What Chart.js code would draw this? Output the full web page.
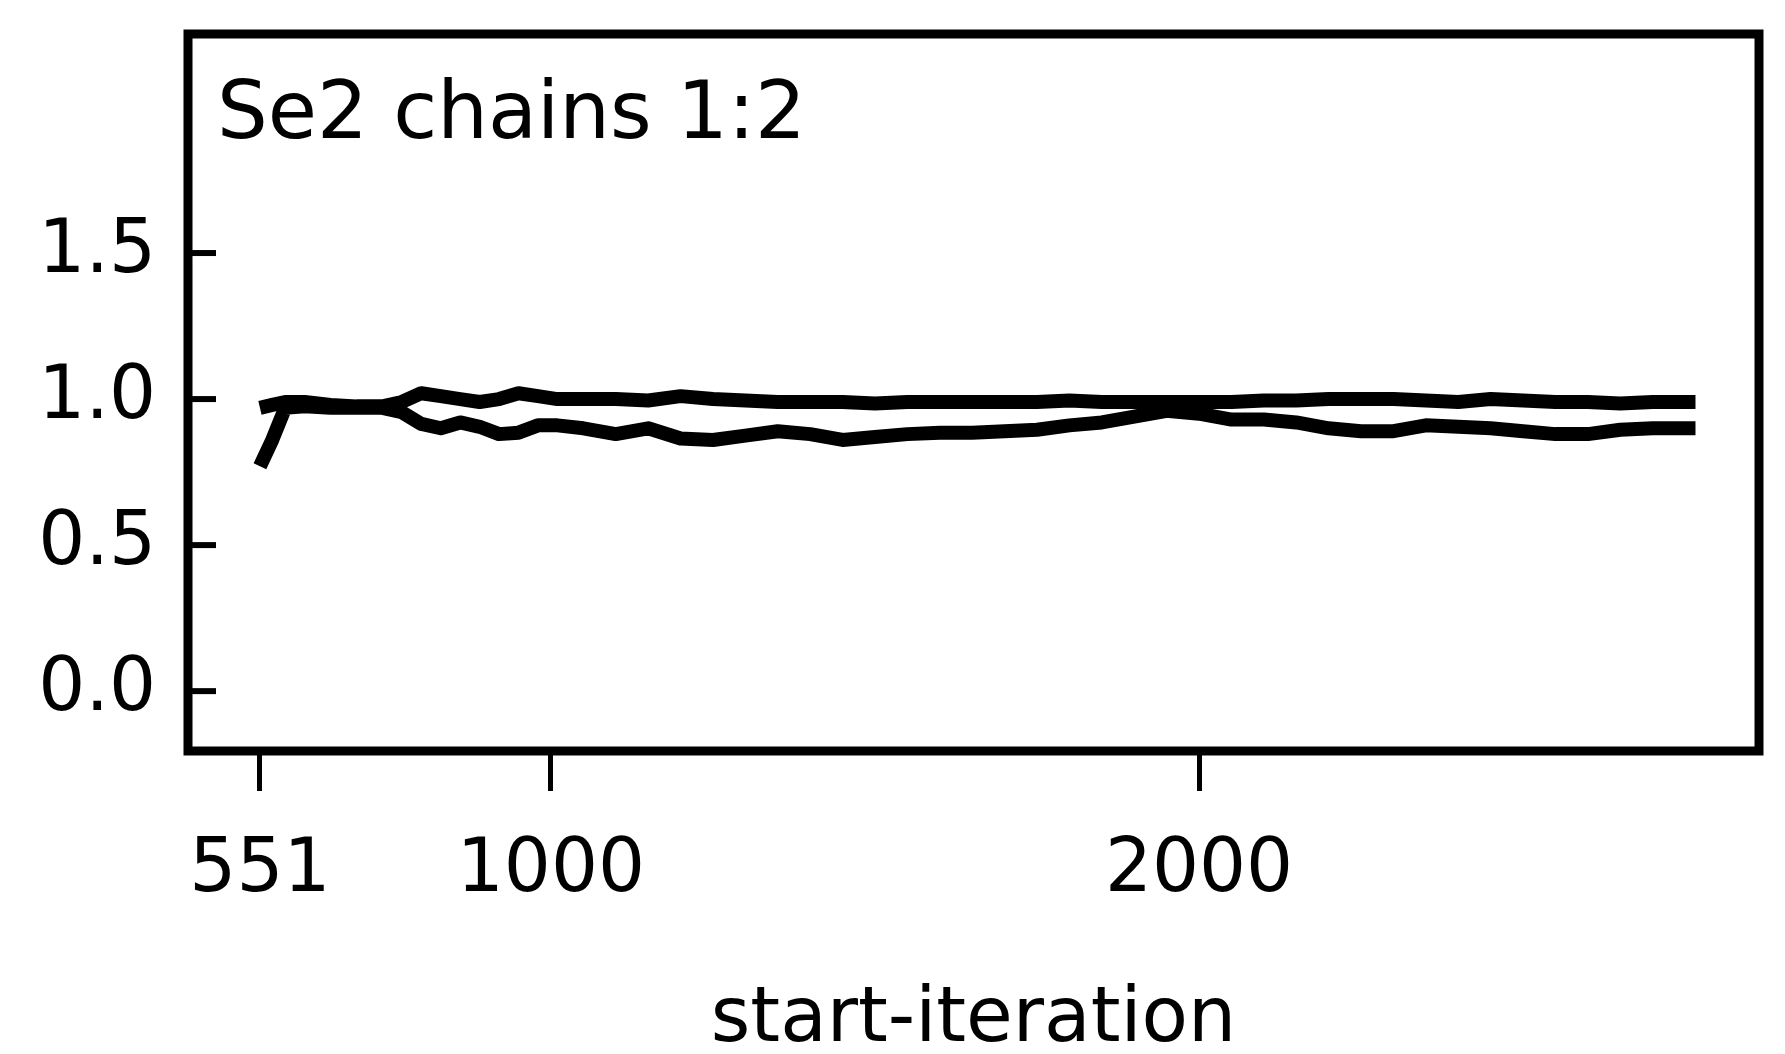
<!DOCTYPE html>
<html>
<head>
<meta charset="utf-8">
<title>Se2 chains 1:2</title>
<script src="https://cdn.jsdelivr.net/npm/chart.js@4.4.1/dist/chart.umd.min.js"></script>
<style>
  html, body { margin: 0; padding: 0; background: #fff; }
  #wrap { width: 1785px; height: 1054px; }
</style>
</head>
<body>
<div id="wrap"><canvas id="Chart1"></canvas></div>
<script>
// start-iteration values and the two chain traces
var iterations = [551, 570, 590, 620, 660, 700, 740, 770, 800, 830, 860, 890, 920, 950, 980, 1010, 1050, 1100, 1150, 1200,
                  1250, 1300, 1350, 1400, 1450, 1500, 1550, 1600, 1650, 1700, 1750, 1800, 1850, 1900, 1950, 2000,
                  2050, 2100, 2150, 2200, 2250, 2300, 2350, 2400, 2450, 2500, 2550, 2600, 2650, 2700, 2766];
var chain1 = [0.97, 0.98, 0.99, 0.99, 0.98, 0.975, 0.975, 0.99, 1.02, 1.01, 1.0, 0.99, 1.0, 1.02, 1.01, 1.0, 1.0, 1.0, 0.995, 1.01,
              1.0, 0.995, 0.99, 0.99, 0.99, 0.985, 0.99, 0.99, 0.99, 0.99, 0.99, 0.995, 0.99, 0.99, 0.99, 0.99,
              0.99, 0.995, 0.995, 1.0, 1.0, 1.0, 0.995, 0.99, 1.0, 0.995, 0.99, 0.99, 0.985, 0.99, 0.99];
var chain2 = [0.77, 0.86, 0.97, 0.975, 0.97, 0.97, 0.97, 0.955, 0.915, 0.90, 0.92, 0.905, 0.88, 0.885, 0.91, 0.91, 0.90, 0.88, 0.90, 0.865,
              0.86, 0.875, 0.89, 0.88, 0.86, 0.87, 0.88, 0.885, 0.885, 0.89, 0.895, 0.91, 0.92, 0.94, 0.96, 0.95,
              0.93, 0.93, 0.92, 0.90, 0.89, 0.89, 0.91, 0.905, 0.90, 0.89, 0.88, 0.88, 0.895, 0.90, 0.90];
var xTicks = [551, 1000, 2000];
var yTicks = [0, 0.5, 1.0, 1.5];
var panelLabel = "Se2 chains 1:2";
var xTitle = "start-iteration";

function points(vals) {
    return iterations.map(function (it, i) { return {x: it, y: vals[i]}; });
}

// frame around the plot, inward y ticks and the panel label
var boxPlugin = {
    id: 'box',
    afterDraw: function (chart) {
        var ctx = chart.ctx, a = chart.chartArea, ys = chart.scales.y;
        ctx.save();
        ctx.strokeStyle = '#000';
        ctx.lineWidth = 9;
        ctx.strokeRect(a.left, a.top, a.right - a.left, a.bottom - a.top);
        ctx.lineWidth = 6;
        yTicks.forEach(function (v) {
            var py = ys.getPixelForValue(v);
            ctx.beginPath();
            ctx.moveTo(a.left, py);
            ctx.lineTo(a.left + 28, py);
            ctx.stroke();
        });
        ctx.fillStyle = '#000';
        ctx.font = '80px "DejaVu Sans"';
        ctx.textBaseline = 'alphabetic';
        ctx.fillText(panelLabel, a.left + 29, a.top + 104);
        ctx.restore();
    }
};

Chart.defaults.font.family = '"DejaVu Sans", sans-serif';
Chart.defaults.color = '#000';

var ctxL = document.getElementById("Chart1").getContext('2d');
var myLineChart = new Chart(ctxL, {
    type: 'line',
    data: {
        datasets: [{
            label: "chain 1",
            data: points(chain1),
            borderColor: '#000',
            borderWidth: 14,
            pointRadius: 0,
            borderJoinStyle: 'round',
            fill: false
        }, {
            label: "chain 2",
            data: points(chain2),
            borderColor: '#000',
            borderWidth: 14,
            pointRadius: 0,
            borderJoinStyle: 'round',
            fill: false
        }]
    },
    options: {
        responsive: true,
        maintainAspectRatio: false,
        animation: false,
        layout: {padding: {top: 34, right: 26, left: 0, bottom: 0}},
        plugins: {legend: {display: false}, tooltip: {enabled: false}},
        scales: {
            x: {
                type: 'linear',
                min: 440,
                max: 2864,
                afterBuildTicks: function (s) { s.ticks = xTicks.map(function (v) { return {value: v}; }); },
                afterFit: function (s) { s.height = 303; s.paddingLeft = 0; s.paddingRight = 0; },
                grid: {drawOnChartArea: false, drawTicks: true, tickLength: 40, lineWidth: 5, color: '#000'},
                border: {display: false},
                ticks: {font: {size: 74}, padding: 36, maxRotation: 0, callback: function (v) { return String(v); }},
                title: {display: true, text: xTitle, font: {size: 76, lineHeight: 0.85}, padding: {top: 0, bottom: 0}}
            },
            y: {
                min: -0.205,
                max: 2.25,
                afterBuildTicks: function (s) { s.ticks = yTicks.map(function (v) { return {value: v}; }); },
                afterFit: function (s) { s.width = 188; s.paddingTop = 0; s.paddingBottom = 0; },
                grid: {drawOnChartArea: false, drawTicks: false},
                border: {display: false},
                ticks: {font: {size: 74}, padding: 32, callback: function (v) { return v.toFixed(1); }}
            }
        }
    },
    plugins: [boxPlugin]
});
</script>
</body>
</html>
